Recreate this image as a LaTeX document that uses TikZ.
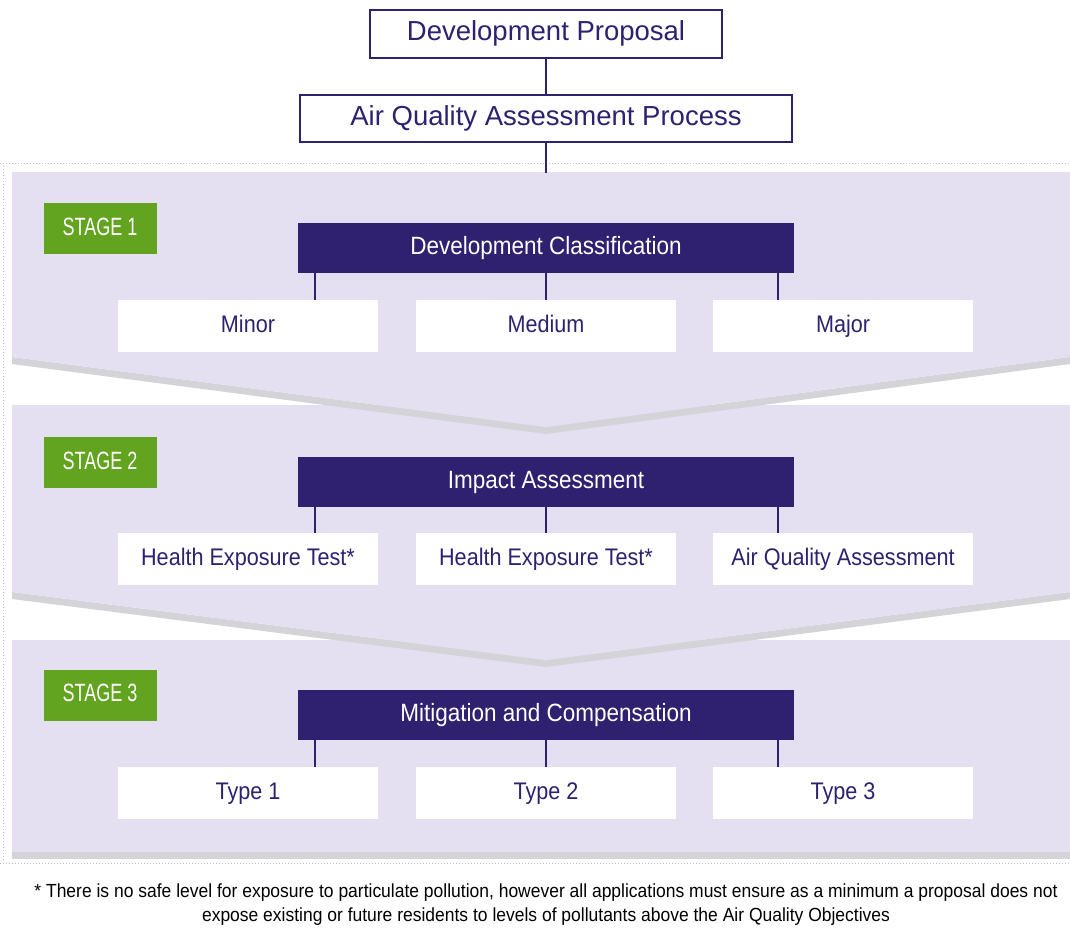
\documentclass[tikz,border=0pt]{standalone}
\usepackage{fontspec}
\setmainfont{Liberation Sans}
\newfontfamily\condA[FakeStretch=0.9]{Liberation Sans}
\newfontfamily\condB[FakeStretch=0.72]{Liberation Sans}
\newfontfamily\condC[FakeStretch=0.92]{Liberation Sans}
\definecolor{lav}{HTML}{E4E0F1}
\definecolor{dpurple}{HTML}{2F2170}
\definecolor{sgreen}{HTML}{62A31F}
\definecolor{shadowgrey}{HTML}{D3D3D8}
\begin{document}
\begin{tikzpicture}[x=1pt,y=-1pt,
  topbox/.style={draw=dpurple, line width=2pt, fill=white, text=dpurple, font=\fontsize{27.5}{30}\selectfont, inner sep=0pt, text height=20pt, text depth=6pt},
  darkbox/.style={fill=dpurple, text=white, font=\condA\fontsize{25}{28}\selectfont, minimum width=496pt, minimum height=50pt, inner sep=0pt, text height=18pt, text depth=5pt},
  whitebox/.style={fill=white, text=dpurple, font=\condA\fontsize{24}{27}\selectfont, minimum width=260pt, minimum height=52pt, inner sep=0pt, text height=17pt, text depth=5pt},
  stagebox/.style={fill=sgreen, text=white, font=\condB\fontsize{25}{28}\selectfont, minimum width=113pt, minimum height=51pt, inner sep=0pt, text height=18pt, text depth=5pt},
  link/.style={draw=dpurple, line width=2pt},
  band/.style={fill=lav},
  shade/.style={fill=shadowgrey},
  frame/.style={draw=black!25, line width=1pt, dotted}
]
\useasboundingbox[fill=white] (0,0) rectangle (1070,931);
% faint dotted frame
\draw[frame] (0,163) -- (1070,163);
\draw[frame] (3,163) -- (3,862);
\draw[frame] (0,863) -- (1070,863);
% stage 3 band
\path[shade] (12,852) rectangle (1070,859);
\path[band] (12,640) rectangle (1070,852);
% stage 2 band
\path[shade] (12,592) -- (546,660) -- (1070,592) -- (1070,599) -- (546,667) -- (12,599) -- cycle;
\path[band] (12,405) -- (1070,405) -- (1070,592) -- (546,660) -- (12,592) -- cycle;
% stage 1 band
\path[shade] (12,357) -- (546,427) -- (1070,357) -- (1070,364) -- (546,434) -- (12,364) -- cycle;
\path[band] (12,172) -- (1070,172) -- (1070,357) -- (546,427) -- (12,357) -- cycle;

% top boxes
\node[topbox, minimum width=352pt, minimum height=48pt] (dp) at (546,34) {Development Proposal};
\node[topbox, minimum width=492pt, minimum height=47pt] (aqa) at (546,118.5) {Air Quality Assessment Process};
\coordinate (b1top) at (546,173);
\draw[link] (dp) -- (aqa);
\draw[link] (aqa) -- (b1top);

% stage 1
\node[stagebox] (s1) at (100,228.5) {STAGE 1};
\node[darkbox] (dc) at (546,248) {Development Classification};
\node[whitebox] (minor) at (248,326) {Minor};
\node[whitebox] (medium) at (546,326) {Medium};
\node[whitebox] (major) at (843,326) {Major};
\draw[link] ([xshift=-231pt]dc.south) -- ([xshift=67pt]minor.north);
\draw[link] (dc.south) -- (medium.north);
\draw[link] ([xshift=232pt]dc.south) -- ([xshift=-65pt]major.north);

% stage 2
\node[stagebox] (s2) at (100,462.5) {STAGE 2};
\node[darkbox] (ia) at (546,482) {Impact Assessment};
\node[whitebox] (het1) at (248,559) {Health Exposure Test*};
\node[whitebox] (het2) at (546,559) {Health Exposure Test*};
\node[whitebox] (aqas) at (843,559) {Air Quality Assessment};
\draw[link] ([xshift=-231pt]ia.south) -- ([xshift=67pt]het1.north);
\draw[link] (ia.south) -- (het2.north);
\draw[link] ([xshift=232pt]ia.south) -- ([xshift=-65pt]aqas.north);

% stage 3
\node[stagebox] (s3) at (100,695) {STAGE 3};
\node[darkbox] (mc) at (546,715) {Mitigation and Compensation};
\node[whitebox] (t1) at (248,793) {Type 1};
\node[whitebox] (t2) at (546,793) {Type 2};
\node[whitebox] (t3) at (843,793) {Type 3};
\draw[link] ([xshift=-231pt]mc.south) -- ([xshift=67pt]t1.north);
\draw[link] (mc.south) -- (t2.north);
\draw[link] ([xshift=232pt]mc.south) -- ([xshift=-65pt]t3.north);

% footnote
\node[font=\condC\fontsize{19}{24}\selectfont, text=black, align=center, inner sep=0pt] (note) at (546,905) {* There is no safe level for exposure to particulate pollution, however all applications must ensure as a minimum a proposal does not\\expose existing or future residents to levels of pollutants above the Air Quality Objectives};
\end{tikzpicture}
\end{document}
